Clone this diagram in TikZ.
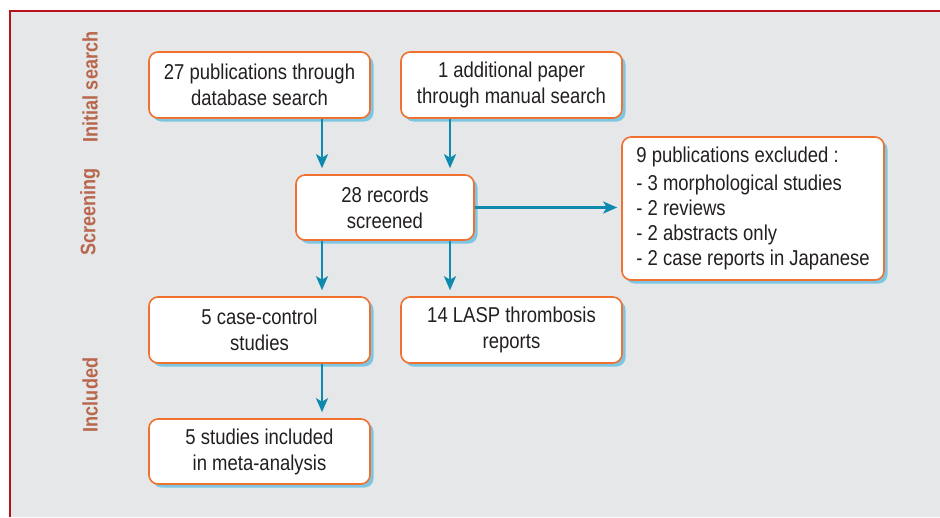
\documentclass[tikz,border=0pt]{standalone}
\usepackage{fontspec}
\setmainfont{Liberation Sans}[FakeStretch=0.86]
\usetikzlibrary{arrows.meta,shadows}
\definecolor{bgc}{HTML}{E6E7E9}
\definecolor{framec}{HTML}{B5121B}
\definecolor{boxc}{HTML}{F07030}
\definecolor{arrc}{HTML}{0E8AAE}
\definecolor{shc}{HTML}{7CC6E2}
\definecolor{labc}{HTML}{B8664C}
\definecolor{txtc}{HTML}{231F20}
\tikzset{
  box/.style={draw=boxc, line width=1.6pt, fill=white, rounded corners=9pt,
    minimum width=221pt, minimum height=66pt, align=center, font=\fontsize{21.5}{26}\selectfont,
    text=txtc, inner sep=2pt,
    drop shadow={shadow xshift=3.5pt, shadow yshift=-3.5pt, fill=shc, opacity=1, draw=none}},
  arr/.style={draw=arrc, line width=2.4pt, -{Stealth[length=14pt,width=12pt,inset=3.5pt]}, shorten >=6pt},
  side/.style={rotate=90, font=\bfseries\fontsize{21}{24}\selectfont, text=labc}
}
\begin{document}
\begin{tikzpicture}[x=1pt,y=-1pt]
\useasboundingbox (0,0) rectangle (940,517);
\fill[bgc] (10,11) rectangle (940,517);
\draw[framec, line width=2pt] (10,517) -- (10,11) -- (940,11);

\node[side] (l1) at (90,87) {Initial search};
\node[side] (l2) at (90,212) {Screening};
\node[side] (l3) at (90,395) {Included};

\node[box] (A) at (259.5,85) {27 publications through\\database search};
\node[box] (B) at (511.5,85) {1 additional paper\\through manual search};
\node[box, minimum width=178pt, minimum height=65pt] (C) at (385,207.5) {28 records\\screened};
\node[box, minimum width=262pt, minimum height=143pt, align=left, font=\fontsize{21.5}{25}\selectfont] (D) at (753,208.5)
  {9 publications excluded :\\[3pt]- 3 morphological studies\\- 2 reviews\\- 2 abstracts only\\- 2 case reports in Japanese};
\node[box] (E) at (259.5,330) {5 case-control\\studies};
\node[box] (F) at (511.5,330) {14 LASP thrombosis\\reports};
\node[box, minimum height=65pt] (G) at (259.5,451.5) {5 studies included\\in meta-analysis};

\draw[arr] ([xshift=62.5pt]A.south) -- ([xshift=62.5pt]A.south |- C.north);
\draw[arr] ([xshift=-61.5pt]B.south) -- ([xshift=-61.5pt]B.south |- C.north);
\draw[arr] ([xshift=-63pt]C.south) -- ([xshift=-63pt]C.south |- E.north);
\draw[arr] ([xshift=65pt]C.south) -- ([xshift=65pt]C.south |- F.north);
\draw[arr, shorten >=4pt] (C.east) -- (C.east -| D.west);
\draw[arr] ([xshift=62.5pt]E.south) -- ([xshift=62.5pt]E.south |- G.north);
\end{tikzpicture}
\end{document}
